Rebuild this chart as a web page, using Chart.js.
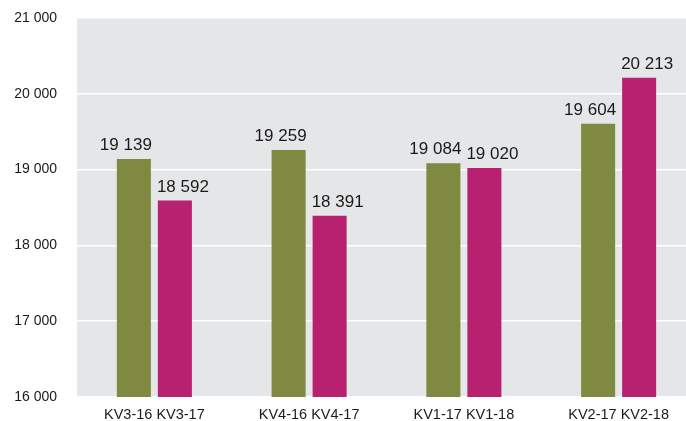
<!doctype html>
<html lang="sv">

<head>
    <meta charset="utf-8">
    <title>KV</title>
    <script src="https://cdn.jsdelivr.net/npm/chart.js"></script>
    <style>
        html, body { margin: 0; padding: 0; background: #ffffff; overflow: hidden; }
        #wrap { width: 686px; height: 421px; overflow: hidden; }
    </style>
</head>

<body>
    <div id="wrap"><canvas id="chart" width="696" height="421"></canvas></div>
    <script>
        // data
        const labels = ["KV3-16 KV3-17", "KV4-16 KV4-17", "KV1-17 KV1-18", "KV2-17 KV2-18"];
        const first_values = [19139, 19259, 19084, 19604];
        const second_values = [18592, 18391, 19020, 20213];
        const y_ticks = [16000, 17000, 18000, 19000, 20000, 21000];

        const font_family = "'Liberation Sans', Arial, sans-serif";

        function fmt(v) {
            return String(v).replace(/\B(?=(\d{3})+(?!\d))/g, " ");
        }

        // gray plot background
        const bgPlugin = {
            id: 'bg',
            beforeDraw(chart) {
                const a = chart.chartArea;
                const c = chart.ctx;
                c.save();
                c.fillStyle = "#e5e6e8";
                c.fillRect(a.left, a.top, a.right - a.left, a.bottom - a.top);
                c.restore();
            }
        };

        // value labels above the bars
        const labelPlugin = {
            id: 'vals',
            afterDatasetsDraw(chart) {
                const c = chart.ctx;
                c.save();
                c.font = "17px " + font_family;
                c.fillStyle = "#1a1a1a";
                c.textAlign = "center";
                c.textBaseline = "alphabetic";
                chart.data.datasets.forEach((ds, di) => {
                    const meta = chart.getDatasetMeta(di);
                    const shift = di == 0 ? -8 : 8;
                    meta.data.forEach((bar, i) => {
                        c.fillText(fmt(ds.data[i]), bar.x + shift, bar.y - 9);
                    });
                });
                c.restore();
            }
        };

        new Chart(document.getElementById('chart'), {
            type: 'bar',
            data: {
                labels: labels,
                datasets: [{
                    data: first_values,
                    backgroundColor: "#7f8940",
                    categoryPercentage: 0.53,
                    barPercentage: 0.83
                }, {
                    data: second_values,
                    backgroundColor: "#b8216f",
                    categoryPercentage: 0.53,
                    barPercentage: 0.83
                }]
            },
            options: {
                responsive: false,
                animation: false,
                layout: {
                    padding: { top: 18, left: 13, right: 0, bottom: 0 }
                },
                plugins: {
                    legend: { display: false },
                    tooltip: { enabled: false }
                },
                scales: {
                    x: {
                        grid: { display: false, drawTicks: false },
                        border: { display: false },
                        ticks: {
                            padding: 9,
                            color: "#1a1a1a",
                            font: { size: 14.5, family: font_family }
                        },
                        afterFit(scale) { scale.height = 24; }
                    },
                    y: {
                        min: 16000,
                        max: 21000,
                        afterBuildTicks(scale) {
                            scale.ticks = y_ticks.map(v => ({ value: v }));
                        },
                        grid: { color: "#ffffff", lineWidth: 1.5, drawTicks: false },
                        border: { display: false },
                        ticks: {
                            padding: 20,
                            color: "#1a1a1a",
                            font: { size: 14, family: font_family },
                            callback: (v) => fmt(v)
                        },
                        afterFit(scale) {
                            scale.width = 64;
                            scale.paddingTop = 0;
                            scale.paddingBottom = 0;
                        }
                    }
                }
            },
            plugins: [bgPlugin, labelPlugin]
        });
    </script>
</body>

</html>
